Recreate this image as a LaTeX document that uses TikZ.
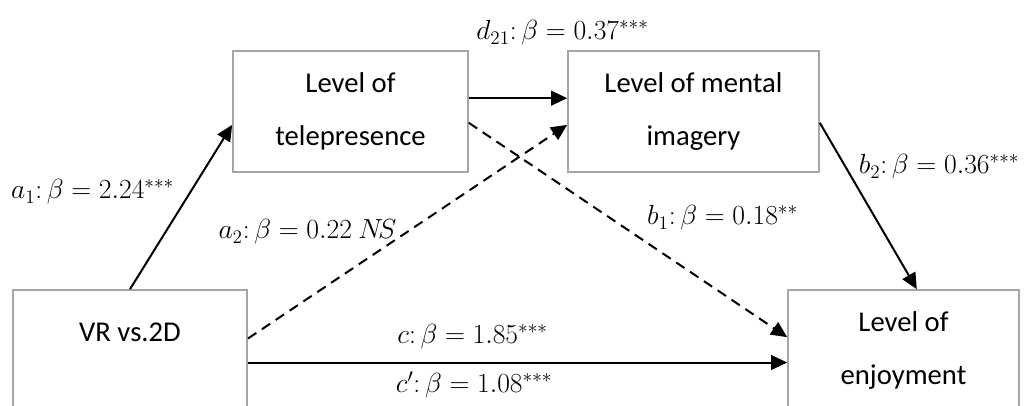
\documentclass[tikz,border=0pt]{standalone}
\usepackage{fontspec}
\setmainfont{Carlito}
\usetikzlibrary{
  arrows.meta,
  positioning,
  calc
}
\definecolor{boxcolor}{RGB}{166,166,166}
\definecolor{arrowcolor}{RGB}{0,0,0}
\newcommand{\boxfont}{\fontsize{21.5}{40}\selectfont}
\newcommand{\coeffont}{\fontsize{21}{25}\selectfont}
\tikzset{
boxtext/.style={
  align=center,
  font=\boxfont,
  inner sep=0pt
},
varbox/.style={
  draw=boxcolor,
  line width=1.5pt,
  minimum height=90.5pt,
  boxtext
},
coef/.style={
  font=\coeffont,
  inner sep=0pt
}
}

\begin{document}
\begin{tikzpicture}[x=0.75pt,y=-0.75pt,
      arr/.style={-{Triangle[length=12pt,width=11pt]}, line width=1.5pt, draw=arrowcolor},
      dasharr/.style={arr, dash pattern=on 7.5pt off 5pt}
    ]
      \useasboundingbox (0,0) rectangle (1027,405);
      \clip (0,0) rectangle (1027,405);

      % variables
      \node[varbox, minimum width=176pt] (tele) at (350.5,111.5) {Level of\\telepresence};
      \node[varbox, minimum width=188pt] (ment) at (693.5,111.5) {Level of mental\\imagery};
      \node[varbox, minimum width=175.5pt] (vr) at (130,350.5) {};
      \node[boxtext] (vrtext) at ([yshift=14pt]vr.center) {VR vs.2D};
      \node[varbox, minimum width=173pt] (enj) at (903.5,350.5) {Level of\\enjoyment};

      % paths
      \draw[arr] (vr.north) -- ([yshift=-10pt]tele.west);
      \draw[arr] ([yshift=10pt]tele.east) -- ([yshift=10pt]ment.west);
      \draw[arr] ([yshift=-8.5pt]ment.east) -- ([xshift=10pt]enj.north);
      \draw[dasharr] ([yshift=9pt]vr.east) -- ([yshift=-10pt]ment.west);
      \draw[dasharr] ([yshift=-8.5pt]tele.east) -- ([yshift=10pt]enj.west);
      \draw[arr] ([yshift=-9pt]vr.east) -- ([yshift=-9pt]enj.west);

      % coefficients
      \node[coef] (d21lab) at (562.5,33) {$d_{21}{:}\,\beta = 0.37^{***}$};
      \node[coef] (a1lab) at (92.5,192) {$a_1{:}\,\beta = 2.24^{***}$};
      \node[coef] (a2lab) at (307.5,232) {$a_2{:}\,\beta = 0.22\ N\!S$};
      \node[coef] (b1lab) at (722.5,218) {$b_1{:}\,\beta = 0.18^{**}$};
      \node[coef] (b2lab) at (939,167) {$b_2{:}\,\beta = 0.36^{***}$};
      \node[coef] (clab) at (472.5,337) {$c{:}\,\beta = 1.85^{***}$};
      \node[coef] (cplab) at (474,385) {$c'{:}\,\beta = 1.08^{***}$};
    \end{tikzpicture}
\end{document}
